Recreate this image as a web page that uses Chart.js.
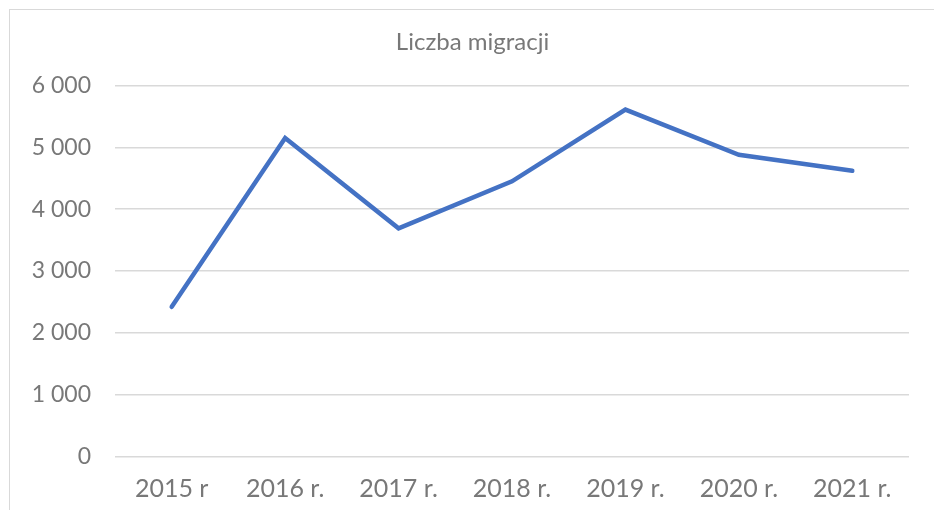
<!DOCTYPE html>
<html>
<head>
    <title>Liczba migracji</title>
    <script src="https://cdn.jsdelivr.net/npm/chart.js"></script>
    <style>
        html, body {
            margin: 0;
            padding: 0;
            background: #fff;
            overflow: hidden;
        }
        .chart-container {
            position: relative;
            width: 934px;
            height: 510px;
        }
        .frame {
            position: absolute;
            left: 9px;
            top: 9px;
            width: 960px;
            height: 540px;
            border: 1.5px solid #d9d9d9;
            pointer-events: none;
        }
    </style>
</head>
<body>
    <div class="chart-container">
        <canvas id="migrationChart"></canvas>
        <div class="frame"></div>
    </div>

    <script>
        // Years and migration counts
        const years = ['2015 r', '2016 r.', '2017 r.', '2018 r.', '2019 r.', '2020 r.', '2021 r.'];
        const migrations = [2420, 5150, 3690, 4450, 5610, 4880, 4620];
        const yMin = 0;
        const yMax = 6000;
        const yStep = 1000;

        const textColor = '#787878';

        // "6000" -> "6 000"
        function formatThousands(value) {
            return String(value).replace(/\B(?=(\d{3})+(?!\d))/g, ' ');
        }

        // nudge the title box right so the heading sits a bit off the page centre
        const titleShift = {
            id: 'titleShift',
            afterLayout(chart) {
                if (chart.titleBlock) {
                    chart.titleBlock.left += 36;
                }
            }
        };

        const ctx = document.getElementById('migrationChart').getContext('2d');
        const chart = new Chart(ctx, {
            type: 'line',
            data: {
                labels: years,
                datasets: [
                    {
                        label: 'Liczba migracji',
                        data: migrations,
                        borderColor: '#4472C4',
                        backgroundColor: '#4472C4',
                        borderWidth: 4.5,
                        borderCapStyle: 'round',
                        borderJoinStyle: 'miter',
                        pointRadius: 0,
                        tension: 0,
                        fill: false
                    }
                ]
            },
            plugins: [titleShift],
            options: {
                responsive: true,
                maintainAspectRatio: false,
                animation: false,
                layout: {
                    padding: { left: 0, right: 25, top: 0, bottom: 0 }
                },
                plugins: {
                    legend: { display: false },
                    tooltip: { enabled: false },
                    title: {
                        display: true,
                        text: 'Liczba migracji',
                        color: textColor,
                        font: { family: 'Lato', size: 24, weight: 'normal' },
                        padding: { top: 28, bottom: 28.7 }
                    }
                },
                scales: {
                    x: {
                        offset: true,
                        grid: { display: false, drawTicks: false },
                        border: { display: false },
                        ticks: {
                            color: textColor,
                            padding: 17,
                            maxRotation: 0,
                            font: { family: 'Lato', size: 25 }
                        },
                        afterFit: function(scale) {
                            scale.height = 53.5;
                        }
                    },
                    y: {
                        min: yMin,
                        max: yMax,
                        grid: {
                            color: '#d9d9d9',
                            lineWidth: 1.5,
                            drawTicks: false
                        },
                        border: { display: false },
                        ticks: {
                            stepSize: yStep,
                            color: textColor,
                            padding: 24,
                            font: { family: 'Lato', size: 23 },
                            callback: function(value) {
                                return formatThousands(value);
                            }
                        },
                        afterFit: function(scale) {
                            scale.width = 115;
                        }
                    }
                }
            }
        });
    </script>
</body>
</html>
